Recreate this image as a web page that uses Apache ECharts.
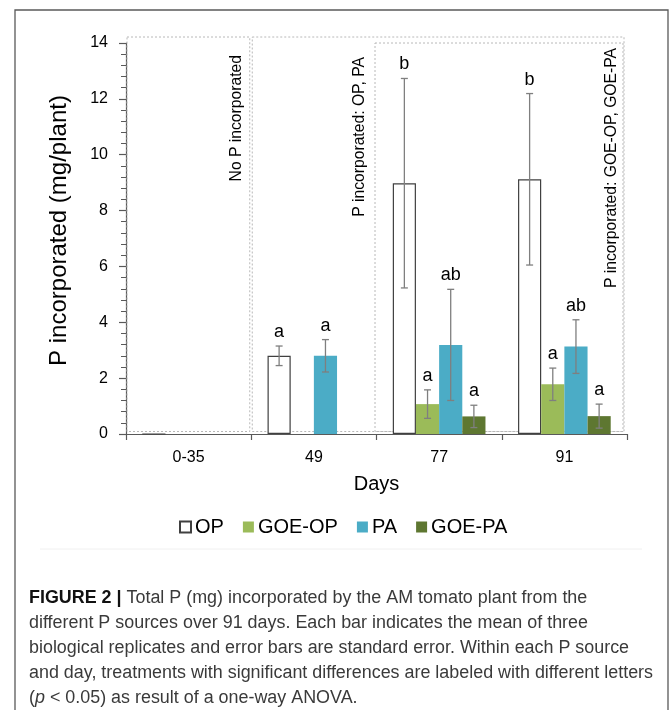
<!DOCTYPE html>
<html><head><meta charset="utf-8">
<script src="https://cdn.jsdelivr.net/npm/echarts@6/dist/echarts.min.js"></script>
<style>html,body{margin:0;padding:0;background:#fff}#c{width:671px;height:710px}</style>
</head><body><div id="c"></div><script>
// ---- data ----
const categories = ['0-35', '49', '77', '91'];
const seriesNames = ['OP', 'GOE-OP', 'PA', 'GOE-PA'];
const opValues    = [0, 2.80, 8.98, 9.12];
const opErr       = [null, 0.35, 3.75, 3.07];
const opLetters   = [null, 'a', 'b', 'b'];
const goeOpValues = [null, null, 1.07, 1.78];
const goeOpErr    = [null, null, 0.51, 0.58];
const goeOpLetters= [null, null, 'a', 'a'];
const paValues    = [null, 2.80, 3.19, 3.13];
const paErr       = [null, 0.58, 1.99, 0.96];
const paLetters   = [null, 'a', 'ab', 'ab'];
const goePaValues = [null, null, 0.63, 0.64];
const goePaErr    = [null, null, 0.40, 0.43];
const goePaLetters= [null, null, 'a', 'a'];
const yMin = 0, yMax = 14, yInterval = 2;
const yAxisTitle = 'P incorporated (mg/plant)';
const xAxisTitle = 'Days';
const phaseLabels = ['No P incorporated', 'P incorporated: OP, PA', 'P incorporated: GOE-OP, GOE-PA'];
const captionLines = [
  '{b|FIGURE 2 |} Total P (mg) incorporated by the AM tomato plant from the',
  'different P sources over 91 days. Each bar indicates the mean of three',
  'biological replicates and error bars are standard error. Within each P source',
  'and day, treatments with significant differences are labeled with different letters',
  '({i|p} < 0.05) as result of a one-way ANOVA.'
];

// ---- layout ----
const FONT = "'Liberation Sans', Arial, sans-serif";
const G = {left: 126, top: 43, right: 44, bottom: 276};
const W = 671, H = 710;
const gW = W - G.left - G.right, gH = H - G.top - G.bottom;
const catW = gW / categories.length;
const GAP = 0.26;

const values = [opValues, goeOpValues, paValues, goePaValues];
const errs = [opErr, goeOpErr, paErr, goePaErr];
const letters = [opLetters, goeOpLetters, paLetters, goePaLetters];
const colors = ['#ffffff', '#9bbb59', '#4bacc6', '#5e7731'];

const errRows = [];
values.forEach((vals, s) => {
  vals.forEach((v, c) => {
    if (v != null && errs[s][c] != null) {
      errRows.push({s: s, cat: c, mean: v, err: errs[s][c], letter: letters[s][c]});
    }
  });
});

function renderErr(params, api) {
  const row = errRows[params.dataIndex];
  const band = api.size([1, 0])[0];
  const bw = band * (1 - GAP) / 4;
  const top = api.coord([row.cat, row.mean + row.err]);
  const bot = api.coord([row.cat, row.mean - row.err]);
  const x = top[0] + (row.s - 1.5) * bw;
  const st = {stroke: '#7f7f7f', lineWidth: 1.3};
  const children = [
    {type: 'line', shape: {x1: x, y1: top[1], x2: x, y2: bot[1]}, style: st},
    {type: 'line', shape: {x1: x - 3.5, y1: top[1], x2: x + 3.5, y2: top[1]}, style: st},
    {type: 'line', shape: {x1: x - 3.5, y1: bot[1], x2: x + 3.5, y2: bot[1]}, style: st}
  ];
  if (row.letter) {
    children.push({type: 'text', x: x, y: top[1] - 5, style: {
      text: row.letter, fill: '#000', fontSize: 18, fontFamily: FONT, align: 'center', verticalAlign: 'bottom'}});
  }
  return {type: 'group', children: children};
}

const barSeries = seriesNames.map((name, s) => ({
  name: name, type: 'bar', data: values[s],
  barGap: '0%', barCategoryGap: (GAP * 100) + '%',
  itemStyle: s === 0 ? {color: '#ffffff', borderColor: '#404040', borderWidth: 1.2}
                     : {color: colors[s], borderWidth: 0},
  emphasis: {disabled: true}, z: 2
}));

// annotation boxes (dotted)
const bx = G.left, by = G.top, bBottom = G.top + gH - 2.5;
const dash = {stroke: '#b8b8b8', fill: null, lineWidth: 1, lineDash: [2, 2]};
function box(x0, y0, x1, y1) {
  return {type: 'rect', shape: {x: x0, y: y0, width: x1 - x0, height: y1 - y0}, style: dash, silent: true, z: 1};
}
function vtext(t, cx, topY) {
  return {type: 'text', x: cx, y: topY, rotation: Math.PI / 2,
    style: {text: t, fontSize: 15.7, fontFamily: FONT, fill: '#000', align: 'right', verticalAlign: 'middle'}, z: 5};
}

// condensed caption: measure the widest line in Liberation Sans and squeeze it horizontally
const CAP_SIZE = 18;
const mctx = document.createElement('canvas').getContext('2d');
mctx.font = CAP_SIZE + "px 'Liberation Sans'";
const widest = mctx.measureText(captionLines[3]).width;
const capScale = 624 / widest;

const chart = echarts.init(document.getElementById('c'), null, {renderer: 'canvas'});
chart.setOption({
  animation: false,
  backgroundColor: '#ffffff',
  textStyle: {fontFamily: FONT},
  grid: {left: G.left, top: G.top, right: G.right, bottom: G.bottom, containLabel: false},
  legend: {
    data: seriesNames, left: 174, top: 512, icon: 'rect',
    itemWidth: 11, itemHeight: 11, itemGap: 19,
    textStyle: {fontSize: 20, color: '#000', fontFamily: FONT, padding: [0, 0, 0, -1]},
    selectedMode: false
  },
  xAxis: {
    type: 'category', data: categories, boundaryGap: true,
    name: xAxisTitle, nameLocation: 'middle', nameGap: 40,
    nameTextStyle: {fontSize: 20, color: '#000', fontFamily: FONT},
    axisLine: {lineStyle: {color: '#595959', width: 1.2}},
    axisTick: {show: true, alignWithLabel: false, length: 6, lineStyle: {color: '#595959', width: 1.2}},
    axisLabel: {fontSize: 16, color: '#000', margin: 16, fontFamily: FONT},
    splitLine: {show: false}
  },
  yAxis: {
    type: 'value', min: yMin, max: yMax, interval: yInterval,
    name: yAxisTitle, nameLocation: 'middle', nameGap: 55,
    nameTextStyle: {fontSize: 24, color: '#000', fontFamily: FONT, padding: [0, 0, 0, 16]},
    axisLine: {show: true, lineStyle: {color: '#595959', width: 1.2}},
    axisTick: {show: true, inside: false, length: 7, lineStyle: {color: '#595959', width: 1.2}},
    minorTick: {show: true, splitNumber: 5, length: 5, lineStyle: {color: '#595959', width: 1}},
    axisLabel: {fontSize: 16, color: '#000', margin: 18, fontFamily: FONT},
    splitLine: {show: false}, minorSplitLine: {show: false}
  },
  graphic: [
    // figure frame
    {type: 'rect', shape: {x: 15, y: 10, width: 653, height: 720}, style: {fill: null, stroke: '#595959', lineWidth: 1.3}, silent: true, z: 0},
    {type: 'line', shape: {x1: 40, y1: 549, x2: 642, y2: 549}, style: {stroke: '#f0f0f0', lineWidth: 1}, silent: true},
    box(bx + 1, by - 6, bx + catW - 1.5, bBottom),
    box(bx + catW + 1, by - 6, bx + 4 * catW - 3, bBottom),
    box(bx + 2 * catW - 1.5, by, bx + 4 * catW - 4, bBottom),
    vtext(phaseLabels[0], bx + catW - 15, 55),
    vtext(phaseLabels[1], bx + 2 * catW - 17, 57),
    vtext(phaseLabels[2], bx + 4 * catW - 15.5, 48),
    {type: 'text', x: 29, y: 586, scaleX: capScale, silent: true, style: {
      text: captionLines.join('\n'), fontSize: CAP_SIZE, fontFamily: 'Liberation Sans',
      fill: '#3a3a3a', lineHeight: 24.8,
      rich: {
        b: {fontWeight: 'bold', fill: '#111', fontSize: CAP_SIZE, fontFamily: 'Liberation Sans', lineHeight: 24.8},
        i: {fontStyle: 'italic', fill: '#3a3a3a', fontSize: CAP_SIZE, fontFamily: 'Liberation Sans', lineHeight: 24.8}
      }
    }}
  ],
  series: barSeries.concat([{
    name: 'err', type: 'custom', renderItem: renderErr,
    data: errRows.map(r => [r.cat, r.mean + r.err]),
    encode: {x: 0, y: 1}, z: 4, clip: false, silent: true
  }])
});
</script></body></html>
